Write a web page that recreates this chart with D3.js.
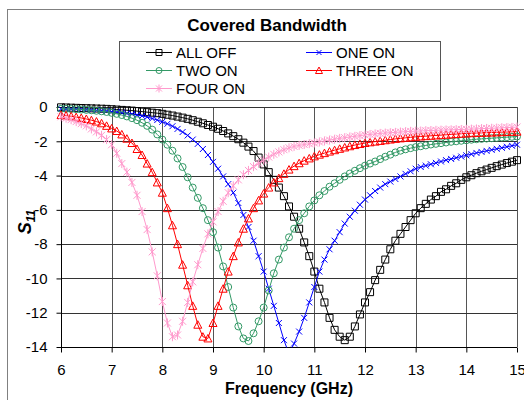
<!DOCTYPE html>
<html>
<head>
<meta charset="utf-8">
<script src="https://cdn.jsdelivr.net/npm/d3@7"></script>
<style>
body { margin: 0; background: #fff; }
text { font-family: "Liberation Sans", Arial, sans-serif; }
</style>
</head>
<body>
<div id="chart"></div>
<script>
// frequency samples (GHz)
var freq = [6.0,6.1,6.2,6.3,6.4,6.5,6.6,6.7,6.8,6.9,
  7.0,7.1,7.2,7.3,7.4,7.5,7.6,7.7,7.8,7.9,
  8.0,8.1,8.2,8.3,8.4,8.5,8.6,8.7,8.8,8.9,
  9.0,9.1,9.2,9.3,9.4,9.5,9.6,9.7,9.8,9.9,
  10.0,10.1,10.2,10.3,10.4,10.5,10.6,10.7,10.8,10.9,
  11.0,11.1,11.2,11.3,11.4,11.5,11.6,11.7,11.8,11.9,
  12.0,12.1,12.2,12.3,12.4,12.5,12.6,12.7,12.8,12.9,
  13.0,13.1,13.2,13.3,13.4,13.5,13.6,13.7,13.8,13.9,
  14.0,14.1,14.2,14.3,14.4,14.5,14.6,14.7,14.8,14.9,
  15.0]

var allOff = [-0.02,-0.03,-0.04,-0.05,-0.06,-0.07,-0.08,-0.09,-0.10,-0.11,
  -0.13,-0.15,-0.17,-0.19,-0.21,-0.24,-0.27,-0.30,-0.33,-0.36,
  -0.40,-0.45,-0.50,-0.56,-0.62,-0.69,-0.77,-0.86,-0.95,-1.05,
  -1.15,-1.27,-1.40,-1.54,-1.70,-1.88,-2.08,-2.31,-2.57,-2.95,
  -3.35,-3.8,-4.25,-4.7,-5.2,-5.8,-6.4,-7.1,-7.9,-8.7,
  -9.6,-10.6,-11.4,-12.3,-13.0,-13.4,-13.6,-13.4,-12.8,-12.1,
  -11.4,-10.8,-10.1,-9.5,-8.9,-8.3,-7.8,-7.4,-7.0,-6.6,
  -6.2,-5.9,-5.65,-5.4,-5.2,-4.95,-4.8,-4.6,-4.45,-4.25,
  -4.1,-3.98,-3.86,-3.75,-3.65,-3.55,-3.45,-3.36,-3.27,-3.19,
  -3.1]

var oneOn = [-0.10,-0.11,-0.12,-0.13,-0.14,-0.16,-0.18,-0.20,-0.22,-0.24,
  -0.27,-0.30,-0.33,-0.37,-0.41,-0.46,-0.52,-0.59,-0.67,-0.76,
  -0.86,-0.98,-1.12,-1.28,-1.46,-1.66,-1.9,-2.15,-2.45,-2.8,
  -3.2,-3.6,-4.05,-4.5,-5.0,-5.6,-6.3,-7.0,-7.8,-8.7,
  -9.6,-10.6,-11.6,-12.6,-13.6,-14.4,-13.8,-13.1,-12.3,-11.4,
  -10.5,-9.6,-8.9,-8.3,-7.8,-7.3,-6.8,-6.4,-6.05,-5.7,
  -5.4,-5.15,-4.9,-4.7,-4.5,-4.35,-4.2,-4.05,-3.9,-3.75,
  -3.6,-3.5,-3.42,-3.34,-3.26,-3.18,-3.1,-3.03,-2.96,-2.89,
  -2.82,-2.75,-2.68,-2.62,-2.56,-2.5,-2.44,-2.38,-2.32,-2.26,
  -2.2]

var twoOn = [-0.10,-0.11,-0.12,-0.13,-0.15,-0.17,-0.19,-0.22,-0.25,-0.29,
  -0.34,-0.40,-0.47,-0.55,-0.65,-0.77,-0.92,-1.10,-1.32,-1.60,
  -1.90,-2.20,-2.55,-3.0,-3.5,-4.1,-4.7,-5.3,-5.9,-6.6,
  -7.3,-8.2,-9.3,-10.5,-11.7,-12.8,-13.5,-13.65,-13.2,-12.5,
  -11.7,-10.7,-9.7,-8.9,-8.2,-7.6,-7.1,-6.6,-6.2,-5.8,
  -5.45,-5.15,-4.9,-4.65,-4.45,-4.25,-4.05,-3.88,-3.72,-3.57,
  -3.42,-3.3,-3.18,-3.04,-2.9,-2.78,-2.65,-2.55,-2.47,-2.4,
  -2.34,-2.29,-2.24,-2.19,-2.15,-2.11,-2.07,-2.03,-2.0,-1.97,
  -1.94,-1.91,-1.88,-1.86,-1.84,-1.82,-1.8,-1.78,-1.76,-1.74,
  -1.72]

var threeOn = [-0.47,-0.50,-0.54,-0.59,-0.64,-0.70,-0.77,-0.85,-0.95,-1.1,
  -1.25,-1.4,-1.6,-1.85,-2.1,-2.45,-2.8,-3.3,-3.8,-4.4,
  -5.0,-5.9,-6.9,-8.0,-9.2,-10.4,-11.6,-12.7,-13.4,-13.5,
  -12.6,-11.6,-10.6,-9.6,-8.7,-7.9,-7.1,-6.5,-5.9,-5.45,
  -5.05,-4.7,-4.4,-4.15,-3.9,-3.65,-3.45,-3.28,-3.13,-3.0,
  -2.88,-2.78,-2.69,-2.6,-2.52,-2.44,-2.36,-2.29,-2.22,-2.16,
  -2.1,-2.06,-2.02,-1.98,-1.94,-1.9,-1.86,-1.83,-1.8,-1.77,
  -1.74,-1.72,-1.70,-1.68,-1.66,-1.64,-1.62,-1.60,-1.58,-1.56,
  -1.54,-1.53,-1.52,-1.51,-1.50,-1.49,-1.48,-1.47,-1.46,-1.45,
  -1.44]

var fourOn = [-0.57,-0.65,-0.74,-0.85,-0.97,-1.1,-1.28,-1.45,-1.65,-1.9,
  -2.2,-2.7,-3.3,-3.8,-4.4,-5.15,-6.1,-7.15,-8.45,-9.85,
  -11.35,-12.6,-13.4,-13.3,-12.5,-11.4,-10.2,-9.2,-8.25,-7.4,
  -6.7,-6.1,-5.5,-5.0,-4.6,-4.25,-3.95,-3.7,-3.48,-3.28,
  -3.1,-2.92,-2.76,-2.62,-2.49,-2.38,-2.3,-2.24,-2.19,-2.14,
  -2.1,-2.04,-1.98,-1.93,-1.88,-1.83,-1.79,-1.75,-1.71,-1.67,
  -1.63,-1.6,-1.57,-1.54,-1.52,-1.5,-1.48,-1.46,-1.44,-1.42,
  -1.41,-1.40,-1.38,-1.37,-1.36,-1.35,-1.34,-1.33,-1.32,-1.31,
  -1.30,-1.29,-1.28,-1.26,-1.25,-1.24,-1.23,-1.21,-1.2,-1.19,
  -1.17]

var seriesNames = ['ALL OFF', 'ONE ON', 'TWO ON', 'THREE ON', 'FOUR ON']
var seriesValues = [allOff, oneOn, twoOn, threeOn, fourOn]
var seriesColors = ['#000000', '#0000ff', '#339966', '#ff0000', '#ff99cc']
var seriesMarkers = ['square', 'cross', 'circle', 'triangle', 'star']

var xTicks = [6, 7, 8, 9, 10, 11, 12, 13, 14, 15]
var yTicks = [0, -2, -4, -6, -8, -10, -12, -14]

var width = 524, height = 400
var plot = {left: 61, right: 517, top: 107, bottom: 347}

var svg = d3.select('#chart').append('svg')
    .attr('width', width)
    .attr('height', height)

// chart area border
svg.append('rect')
    .attr('x', 7.5).attr('y', 9.5)
    .attr('width', 530).attr('height', 400)
    .attr('fill', '#fff')
    .attr('stroke', '#808080')

var x = d3.scaleLinear().domain([6, 15]).range([plot.left, plot.right])
var y = d3.scaleLinear().domain([-14, 0]).range([plot.bottom, plot.top])

// gridlines
svg.append('g').selectAll('line')
    .data(xTicks.slice(1))
    .enter().append('line')
    .attr('x1', function(d) {return Math.round(x(d)) + 0.5})
    .attr('x2', function(d) {return Math.round(x(d)) + 0.5})
    .attr('y1', plot.top).attr('y2', plot.bottom)
    .attr('stroke', '#555')

svg.append('g').selectAll('line')
    .data(yTicks.slice(0, -1))
    .enter().append('line')
    .attr('x1', plot.left).attr('x2', plot.right)
    .attr('y1', function(d) {return Math.round(y(d)) + 0.5})
    .attr('y2', function(d) {return Math.round(y(d)) + 0.5})
    .attr('stroke', '#333')

// axes
var xAxis = svg.append('g')
    .attr('transform', 'translate(0,' + (plot.bottom + 0.5) + ')')
    .call(d3.axisBottom(x).tickValues(xTicks).tickSize(5).tickPadding(12).tickFormat(d3.format('d')))
var yAxis = svg.append('g')
    .attr('transform', 'translate(' + (plot.left + 0.5) + ',0)')
    .call(d3.axisLeft(y).tickValues(yTicks).tickSize(5).tickPadding(9).tickFormat(function(d) {return d === 0 ? '0' : '-' + Math.abs(d)}))

xAxis.selectAll('text').attr('font-size', 15).attr('fill', '#000').style('font-family', '"Liberation Sans", Arial, sans-serif')
yAxis.selectAll('text').attr('font-size', 15).attr('fill', '#000').style('font-family', '"Liberation Sans", Arial, sans-serif')
xAxis.selectAll('line, path').attr('stroke', '#000')
yAxis.selectAll('line, path').attr('stroke', '#000')
xAxis.select('.domain').attr('d', 'M' + plot.left + ',0H' + plot.right)
yAxis.select('.domain').attr('d', 'M0,' + plot.bottom + 'V' + plot.top)

// clip series to the plot area
svg.append('clipPath').attr('id', 'clip')
    .append('rect')
    .attr('x', plot.left - 6).attr('y', plot.top - 6)
    .attr('width', plot.right - plot.left + 12)
    .attr('height', plot.bottom - plot.top + 6.5)

function markerPath(type, s) {
    var h = s / 2
    if (type === 'square') return 'M' + (-h) + ',' + (-h) + 'h' + s + 'v' + s + 'h' + (-s) + 'Z'
    if (type === 'circle') return 'M' + h + ',0A' + h + ',' + h + ' 0 1,1 ' + (-h) + ',0A' + h + ',' + h + ' 0 1,1 ' + h + ',0'
    if (type === 'triangle') return 'M0,' + (-h - 0.5) + 'L' + (h + 0.5) + ',' + h + 'L' + (-h - 0.5) + ',' + h + 'Z'
    if (type === 'cross') return 'M' + (-h) + ',' + (-h) + 'L' + h + ',' + h + 'M' + h + ',' + (-h) + 'L' + (-h) + ',' + h
    // star: x plus vertical bar
    return 'M' + (-h) + ',' + (-h) + 'L' + h + ',' + h + 'M' + h + ',' + (-h) + 'L' + (-h) + ',' + h + 'M0,' + (-h - 1) + 'V' + (h + 1)
}

var line = d3.line()
    .x(function(d) {return x(d[0])})
    .y(function(d) {return y(d[1])})

var seriesGroup = svg.append('g').attr('clip-path', 'url(#clip)')

seriesValues.forEach(function(vals, k) {
    var pts = freq.map(function(f, i) {return [f, vals[i]]})
    var g = seriesGroup.append('g')
    g.append('path')
	.datum(pts)
	.attr('d', line)
	.attr('fill', 'none')
	.attr('stroke', seriesColors[k])
	.attr('stroke-width', 1)
    g.selectAll('path.m')
	.data(pts)
	.enter()
	.append('path')
	.attr('class', 'm')
	.attr('transform', function(d) {return 'translate(' + x(d[0]) + ',' + y(d[1]) + ')'})
	.attr('d', markerPath(seriesMarkers[k], k === 1 ? 6 : 7))
	.attr('fill', 'none')
	.attr('stroke', seriesColors[k])
	.attr('stroke-width', 1)
})

// title
svg.append('text')
    .attr('x', 267).attr('y', 31)
    .attr('text-anchor', 'middle')
    .attr('font-size', 17).attr('font-weight', 'bold')
    .text('Covered Bandwidth')

// axis titles
svg.append('text')
    .attr('x', (plot.left + plot.right) / 2).attr('y', 394)
    .attr('text-anchor', 'middle')
    .attr('font-size', 16).attr('font-weight', 'bold')
    .text('Frequency (GHz)')

var yTitle = svg.append('text')
    .attr('transform', 'translate(31,222) rotate(-90)')
    .attr('text-anchor', 'middle')
    .attr('font-size', 18).attr('font-weight', 'bold').attr('font-style', 'italic')
yTitle.append('tspan').text('S')
yTitle.append('tspan').attr('font-size', 12).attr('dy', 4).text('11')

// legend
var legend = svg.append('g')
legend.append('rect')
    .attr('x', 119.5).attr('y', 41.5)
    .attr('width', 321).attr('height', 59)
    .attr('fill', '#fff')
    .attr('stroke', '#555')

var legendPos = [[146, 52], [306, 52], [146, 70], [306, 70], [146, 88]]
seriesNames.forEach(function(name, k) {
    var p = legendPos[k]
    var item = legend.append('g').attr('transform', 'translate(' + p[0] + ',' + p[1] + ')')
    item.append('line')
	.attr('x1', 0).attr('x2', 26).attr('y1', 0.5).attr('y2', 0.5)
	.attr('stroke', seriesColors[k])
    item.append('path')
	.attr('transform', 'translate(13,0.5)')
	.attr('d', markerPath(seriesMarkers[k], k === 1 ? 5 : 6))
	.attr('fill', 'none')
	.attr('stroke', seriesColors[k])
    item.append('text')
	.attr('x', 30).attr('y', 6)
	.attr('font-size', 15)
	.text(name)
})
</script>
</body>
</html>
